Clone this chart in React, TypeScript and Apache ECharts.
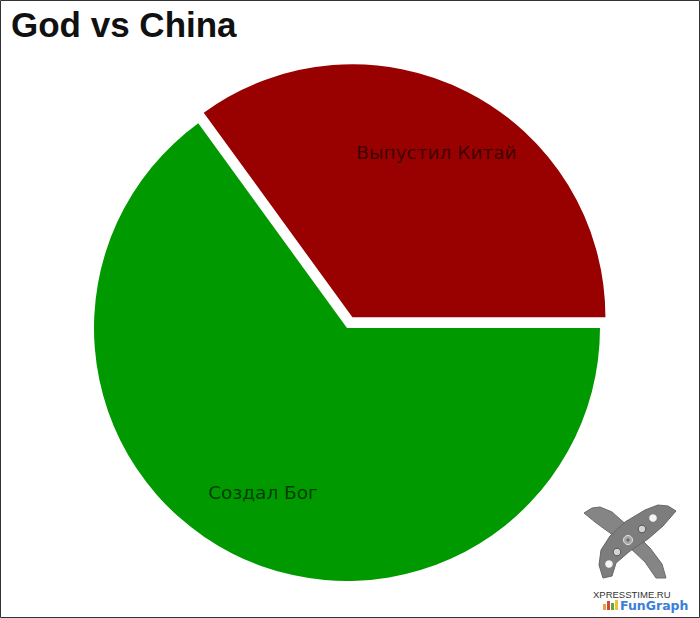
import React, { useEffect, useRef } from "react";
import * as echarts from "echarts";

const titleText = "God vs China";
const categories = ["Выпустил Китай", "Создал Бог"];
const values = [35, 65];
const colors = ["#990000", "#009900"];
const selectedFlags = [true, false];

export default function App() {
  const ref = useRef<HTMLDivElement>(null);
  useEffect(() => {
    if (!ref.current) return;
    const chart = echarts.init(ref.current, null, { renderer: "svg" });
    const baseData = categories.map((name, i) => ({
      name,
      value: values[i],
      selected: selectedFlags[i],
      itemStyle: { color: colors[i] },
    }));
    const labelData = categories.map((name, i) => ({
      name,
      value: values[i],
      selected: selectedFlags[i],
      itemStyle: { color: "rgba(0,0,0,0)" },
    }));
    const common = {
      type: "pie" as const,
      center: [347, 328],
      startAngle: 126,
      clockwise: true,
      selectedMode: "single" as const,
      selectedOffset: 12,
      silent: true,
      emphasis: { disabled: true },
      labelLine: { show: false },
    };
    chart.setOption({
      animation: false,
      backgroundColor: "#ffffff",
      title: {
        text: titleText,
        left: 11,
        top: 7,
        padding: 0,
        textStyle: {
          fontFamily: "Liberation Sans",
          fontWeight: "bold",
          fontSize: 35,
          color: "#111111",
        },
      },
      series: [
        {
          ...common,
          radius: [0, 253],
          label: { show: false },
          data: baseData,
        },
        {
          ...common,
          radius: [111, 253],
          z: 3,
          label: {
            show: true,
            position: "inside",
            formatter: "{b}",
            fontFamily: "DejaVu Sans",
            fontSize: 18.5,
            color: "rgba(0,0,0,0.62)",
          },
          data: labelData,
        },
      ],
      graphic: [
        {
          type: "rect",
          silent: true,
          shape: { x: 0.5, y: 0.5, width: 699, height: 617 },
          style: { fill: "none", stroke: "#333333", lineWidth: 1 },
        },
        {
          type: "group",
          silent: true,
          children: [
            {
              type: "polygon",
              shape: {
                points: [
                  [584, 513], [592, 508], [600, 507], [612, 512], [630, 528],
                  [650, 548], [662, 564], [666, 578], [656, 578], [645, 562],
                  [628, 546], [610, 533], [595, 522],
                ],
              },
              style: { fill: "#858585", stroke: "#6a6a6a", lineWidth: 1 },
            },
            {
              type: "polygon",
              shape: {
                points: [
                  [676, 511], [668, 506], [658, 505], [645, 510], [625, 522],
                  [610, 536], [601, 550], [599, 565], [603, 578], [612, 576],
                  [616, 563], [630, 551], [648, 539], [663, 526],
                ],
              },
              style: { fill: "#7d7d7d", stroke: "#666666", lineWidth: 1 },
            },
            { type: "circle", shape: { cx: 653, cy: 518, r: 3.8 }, style: { fill: "#f4f4f4" } },
            { type: "circle", shape: { cx: 642, cy: 529, r: 3.8 }, style: { fill: "#d4d4d4", stroke: "#555", lineWidth: 1 } },
            { type: "circle", shape: { cx: 628, cy: 540, r: 4.5 }, style: { fill: "#a8a8a8", stroke: "#e6e6e6", lineWidth: 1 } },
            { type: "circle", shape: { cx: 628, cy: 540, r: 1.6 }, style: { fill: "#6a6a6a" } },
            { type: "circle", shape: { cx: 617, cy: 552, r: 3.8 }, style: { fill: "#d4d4d4", stroke: "#555", lineWidth: 1 } },
            { type: "circle", shape: { cx: 609, cy: 564, r: 3.8 }, style: { fill: "#f4f4f4" } },
            {
              type: "text",
              x: 593,
              y: 589,
              style: {
                text: "XPRESSTIME.RU",
                fontFamily: "Liberation Sans Narrow, Liberation Sans",
                fontSize: 9.5,
                fill: "#333333",
              },
            },
            { type: "rect", shape: { x: 603, y: 604, width: 3, height: 6 }, style: { fill: "#e8a33a" } },
            { type: "rect", shape: { x: 607, y: 601, width: 3, height: 9 }, style: { fill: "#d9443a" } },
            { type: "rect", shape: { x: 611, y: 603, width: 3, height: 7 }, style: { fill: "#5aa844" } },
            { type: "rect", shape: { x: 615, y: 600, width: 3, height: 10 }, style: { fill: "#e6c52e" } },
            {
              type: "text",
              x: 620,
              y: 599,
              style: {
                text: "FunGraph",
                fontFamily: "DejaVu Sans",
                fontWeight: "bold",
                fontSize: 12.5,
                fill: "#3b7fd9",
              },
            },
          ],
        },
      ],
    });
    return () => chart.dispose();
  }, []);
  return (
    <div
      ref={ref}
      style={{ position: "fixed", left: 0, top: 0, width: 700, height: 618 }}
    />
  );
}
